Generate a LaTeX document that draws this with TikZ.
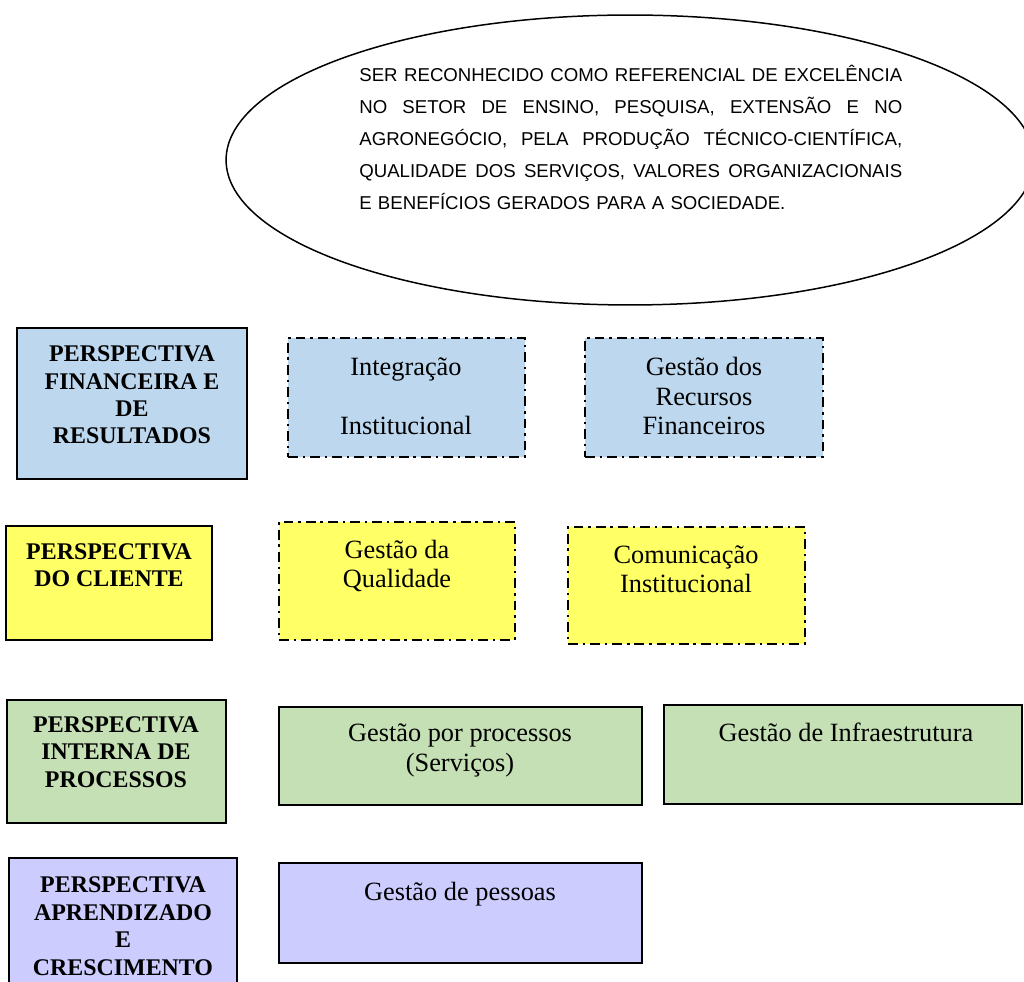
\documentclass[tikz,border=0pt]{standalone}
\usepackage{fontspec}
\setmainfont{Liberation Serif}
\newfontfamily\arialf{Liberation Sans}
\usetikzlibrary{fit,shapes.geometric}
\definecolor{pblue}{HTML}{BDD7EE}
\definecolor{pyellow}{HTML}{FFFF66}
\definecolor{pgreen}{HTML}{C5E0B4}
\definecolor{ppurple}{HTML}{CCCCFF}
\tikzset{
  lbox/.style={draw=black, line width=1.2pt, inner sep=0pt},
  sbox/.style={draw=black, line width=0.9pt, inner sep=0pt},
  dbox/.style={draw=black, line width=1.1pt, inner sep=0pt,
    dash pattern=on 5.6pt off 2.8pt on 1.4pt off 2.8pt},
  ltext/.style={anchor=base, align=center, inner sep=0pt,
    font=\fontsize{13.6pt}{15.6pt}\selectfont\bfseries},
  rtext/.style={anchor=base, align=center, inner sep=0pt,
    font=\fontsize{15pt}{17pt}\selectfont},
}
\newcommand{\jline}[1]{{\spaceskip=0.27em plus 3em\relax\makebox[10.86cm][s]{#1}}}
\begin{document}
\begin{tikzpicture}[x=0.02cm, y=-0.02cm]
\clip (0,0) rectangle (1024,982);
% vision ellipse
\node[draw=black, line width=0.85pt, ellipse, inner sep=0pt,
  minimum width=16.16cm, minimum height=5.8cm] (vis) at (630,160) {};
\node[anchor=base west, align=left, text width=10.86cm, inner sep=0pt,
  font=\arialf\fontsize{10.6pt}{18.1pt}\selectfont] (vistext) at (359,82)
  {\jline{SER RECONHECIDO COMO REFERENCIAL DE EXCELÊNCIA}\\
   \jline{NO SETOR DE ENSINO, PESQUISA, EXTENSÃO E NO}\\
   \jline{AGRONEGÓCIO, PELA PRODUÇÃO TÉCNICO-CIENTÍFICA,}\\
   \jline{QUALIDADE DOS SERVIÇOS, VALORES ORGANIZACIONAIS}\\
   E BENEFÍCIOS GERADOS PARA A SOCIEDADE.};
% row 1
\node[lbox, fill=pblue, fit={(17,328) (247,479)}] (p1) {};
\node[ltext] (p1t) at (132,444) {PERSPECTIVA\\FINANCEIRA E\\DE\\RESULTADOS};
\node[dbox, fill=pblue, fit={(288,338) (525,457)}] (a1) {};
\node[rtext] (a1t) at (406,435) {Integração\\\mbox{}\\Institucional};
\node[dbox, fill=pblue, fit={(585,338) (823,457)}] (a2) {};
\node[rtext] (a2t) at (704,435) {Gestão dos\\Recursos\\Financeiros};
% row 2
\node[lbox, fill=pyellow, fit={(6,526) (212,640)}] (p2) {};
\node[ltext] (p2t) at (109,587) {PERSPECTIVA\\DO CLIENTE};
\node[dbox, fill=pyellow, fit={(279,522) (515,640)}] (b1) {};
\node[rtext] (b1t) at (397,588) {Gestão da\\Qualidade};
\node[dbox, fill=pyellow, fit={(568,527) (805,644)}] (b2) {};
\node[rtext] (b2t) at (686,593) {Comunicação\\Institucional};
% row 3
\node[lbox, fill=pgreen, fit={(7,700) (226,823)}] (p3) {};
\node[ltext] (p3t) at (116,787) {PERSPECTIVA\\INTERNA DE\\PROCESSOS};
\node[sbox, fill=pgreen, fit={(279,707) (642,805)}] (c1) {};
\node[rtext] (c1t) at (460,771) {Gestão por processos\\(Serviços)};
\node[sbox, fill=pgreen, fit={(664,705) (1022,804)}] (c2) {};
\node[rtext] (c2t) at (846,741) {Gestão de Infraestrutura};
% row 4
\node[lbox, fill=ppurple, fit={(9,858) (237,995)}] (p4) {};
\node[ltext] (p4t) at (123,975) {PERSPECTIVA\\APRENDIZADO\\E\\CRESCIMENTO};
\node[sbox, fill=ppurple, fit={(279,863) (642,963)}] (d1) {};
\node[rtext] (d1t) at (460,900) {Gestão de pessoas};
\end{tikzpicture}
\end{document}
